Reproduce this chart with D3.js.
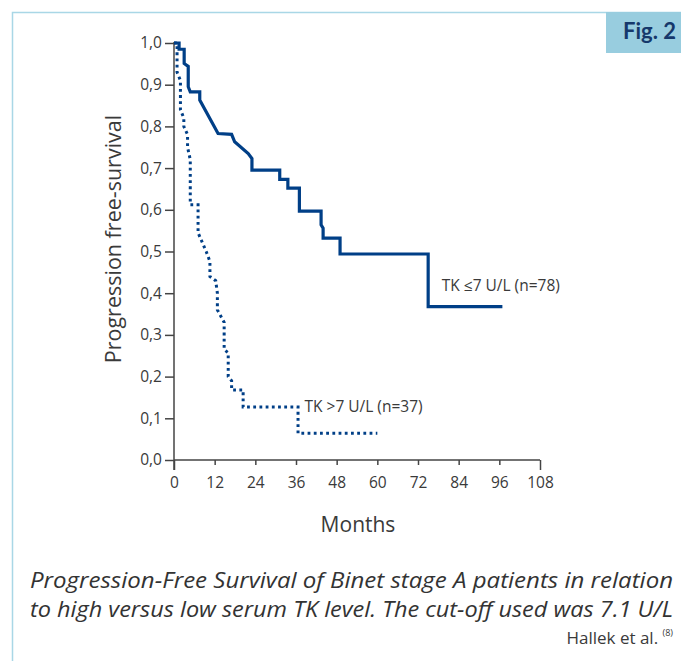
<!DOCTYPE html>
<html>
<head>
<meta charset="utf-8">
<script src="https://cdn.jsdelivr.net/npm/d3@7"></script>
<style>
 body { margin: 0; background: #fff; }
 text { font-family: "Open Sans", "Noto Sans", sans-serif; fill: #3a3a3a; }
</style>
</head>
<body>
<div id="chart"></div>
<script>
// TK <= 7 U/L (n=78), vertices of the survival curve
const lowMonths = [0, 1.5, 1.5, 3.0, 3.0, 4.2, 4.2, 4.8, 7.6, 7.6, 13.0, 17.0, 17.9, 21.9, 23.0, 23.0, 31.2, 31.2, 33.6, 33.6, 37.0, 37.0, 43.4, 43.4, 44.0, 44.0, 49.0, 49.0, 75.0, 75.0, 96.9];
const lowSurv = [1.0, 1.0, 0.985, 0.985, 0.951, 0.944, 0.895, 0.883, 0.883, 0.863, 0.783, 0.781, 0.763, 0.735, 0.723, 0.695, 0.695, 0.673, 0.673, 0.652, 0.652, 0.597, 0.597, 0.564, 0.556, 0.532, 0.532, 0.494, 0.494, 0.368, 0.368];

// TK > 7 U/L (n=37)
const highMonths = [0, 0.9, 0.9, 1.9, 1.9, 2.9, 2.9, 4.0, 4.0, 4.8, 4.8, 7.1, 7.1, 9.5, 10.6, 10.6, 12.3, 12.8, 12.8, 14.8, 14.8, 16.0, 16.0, 17.0, 17.0, 20.4, 20.4, 36.6, 36.6, 60];
const highSurv = [1.0, 1.0, 0.93, 0.91, 0.84, 0.82, 0.80, 0.78, 0.75, 0.72, 0.612, 0.612, 0.545, 0.50, 0.476, 0.44, 0.43, 0.40, 0.36, 0.33, 0.265, 0.257, 0.20, 0.19, 0.168, 0.168, 0.127, 0.127, 0.064, 0.064];

const xTicks = [0, 12, 24, 36, 48, 60, 72, 84, 96, 108];
const yTicks = [0, 0.1, 0.2, 0.3, 0.4, 0.5, 0.6, 0.7, 0.8, 0.9, 1.0];
const seriesLabels = ["TK \u22647 U/L (n=78)", "TK >7 U/L (n=37)"];
const captionLines = [
 "Progression-Free Survival of Binet stage A patients in relation",
 "to high versus low serum TK level. The cut-off used was 7.1 U/L"
];

const width = 681, height = 661;
const blue = "#003f87";
const axisCol = "#444";

const svg = d3.select("#chart").append("svg")
 .attr("width", width).attr("height", height);

// frame + fig tag
svg.append("path")
 .attr("d", "M12.5,661 V12.5 H681")
 .attr("fill", "none").attr("stroke", "#a9d7e6").attr("stroke-width", 1.5);
svg.append("rect")
 .attr("x", 606).attr("y", 12).attr("width", 75).attr("height", 41)
 .attr("fill", "#98cddf");
svg.append("text")
 .attr("x", 676).attr("y", 39).attr("text-anchor", "end")
 .style("font-family", "Lato, 'Open Sans', sans-serif")
 .style("font-weight", "bold").style("font-size", "22px")
 .style("fill", "#15386b")
 .text("Fig. 2");

const x = d3.scaleLinear().domain([0, 108]).range([174, 540]);
const y = d3.scaleLinear().domain([0, 1]).range([460, 43]);

// y axis
const yAxis = svg.append("g")
 .attr("transform", "translate(174,0)")
 .call(d3.axisLeft(y).tickValues(yTicks).tickSize(9).tickPadding(3)
  .tickFormat(d => d3.format(".1f")(d).replace(".", ",")));
yAxis.select(".domain").remove();
yAxis.selectAll("line").attr("stroke", axisCol).attr("stroke-width", 1.5);
yAxis.selectAll("text").style("font-size", "15.5px").style("fill", "#3a3a3a")
 .style("font-family", "'Open Sans', sans-serif");

// x axis
const xAxis = svg.append("g")
 .attr("transform", "translate(0,460)")
 .call(d3.axisBottom(x).tickValues(xTicks).tickPadding(12)
  .tickSize(5));
xAxis.select(".domain").remove();
xAxis.selectAll("line").attr("stroke", axisCol).attr("stroke-width", 1.5)
 .attr("y2", d => (d === 0 || d === 108) ? 10 : 5);
xAxis.selectAll("text").style("font-size", "15.5px").style("fill", "#3a3a3a")
 .style("font-family", "'Open Sans', sans-serif");

svg.append("line")
 .attr("x1", x(0)).attr("x2", x(0)).attr("y1", y(1) - 1).attr("y2", 470)
 .attr("stroke", axisCol).attr("stroke-width", 1.5);
svg.append("line")
 .attr("x1", x(0)).attr("x2", x(108)).attr("y1", y(0)).attr("y2", y(0))
 .attr("stroke", axisCol).attr("stroke-width", 1.5);

// curves
const line = d3.line().x(d => x(d[0])).y(d => y(d[1]));
const low = lowMonths.map((m, i) => [m, lowSurv[i]]);
const high = highMonths.map((m, i) => [m, highSurv[i]]);

svg.append("path").datum(high)
 .attr("d", line).attr("fill", "none")
 .attr("stroke", blue).attr("stroke-width", 3)
 .attr("stroke-dasharray", "2.8,3.4");
svg.append("path").datum(low)
 .attr("d", line).attr("fill", "none")
 .attr("stroke", blue).attr("stroke-width", 3.2)
 .attr("stroke-linejoin", "miter");

// series labels
svg.append("text")
 .attr("x", x(79)).attr("y", y(lowSurv[lowSurv.length - 1]) - 16)
 .style("font-size", "15.5px").text(seriesLabels[0]);
svg.append("text")
 .attr("x", x(38.5)).attr("y", y(0.127) + 5)
 .style("font-size", "15.5px").text(seriesLabels[1]);

// axis titles
svg.append("text")
 .attr("transform", "translate(121,239) rotate(-90)")
 .attr("text-anchor", "middle")
 .style("font-size", "21.5px")
 .text("Progression free-survival");
svg.append("text")
 .attr("x", 358).attr("y", 532).attr("text-anchor", "middle")
 .style("font-size", "21px")
 .text("Months");

// caption
svg.selectAll(".cap").data(captionLines).enter().append("text")
 .attr("class", "cap")
 .attr("x", 30).attr("y", (d, i) => 588 + i * 29)
 .attr("textLength", 643).attr("lengthAdjust", "spacingAndGlyphs")
 .style("font-size", "21px").style("font-style", "italic")
 .style("fill", "#333")
 .text(d => d);

const src = svg.append("text")
 .attr("x", 673).attr("y", 644).attr("text-anchor", "end")
 .style("font-size", "17px");
src.append("tspan").text("Hallek et al. ");
src.append("tspan").attr("dy", -8).style("font-size", "9px").text("(8)");
</script>
</body>
</html>
